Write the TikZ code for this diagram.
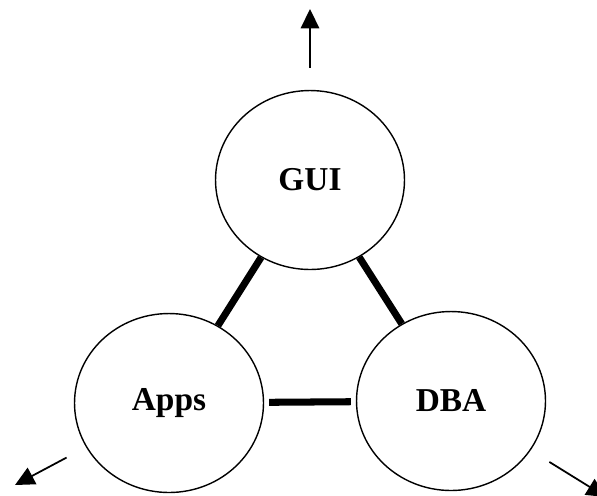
\documentclass[tikz,border=0pt]{standalone}
\usepackage{fontspec}
\setmainfont{Liberation Serif}
\usetikzlibrary{arrows.meta,shapes.geometric,calc}
\tikzset{>={Triangle[length=11pt,width=10.5pt]}}

\begin{document}
\begin{tikzpicture}[x=0.02cm,y=-0.02cm,
    unit/.style={draw, ellipse, line width=0.8pt, minimum width=3.78cm, minimum height=3.58cm, inner sep=0pt, font=\fontsize{19}{22}\selectfont\bfseries},
    link/.style={line width=4pt},
    outlink/.style={->, line width=1pt, shorten <=0.44cm}]
    \useasboundingbox (0,0) rectangle (597,495);

    \node[unit] (gui) at (310,180) {GUI};
    \node[unit] (apps) at (169,403) {Apps};
    \node[unit] (dba) at (451,401) {DBA};

    \coordinate (gout) at (310,9);
    \coordinate (aout) at (15,485);
    \coordinate (dout) at (606,497);

    % links between the parts
    \draw[link] (gui) -- (apps);
    \draw[link] (gui) -- (dba);
    \draw[link, shorten <=0.1cm, shorten >=0.1cm] (apps) -- (dba);

    % outgoing arrows
    \draw[outlink] (gui) -- (gout);
    \draw[outlink] (apps) -- (aout);
    \draw[outlink] (dba) -- (dout);
\end{tikzpicture}
\end{document}
